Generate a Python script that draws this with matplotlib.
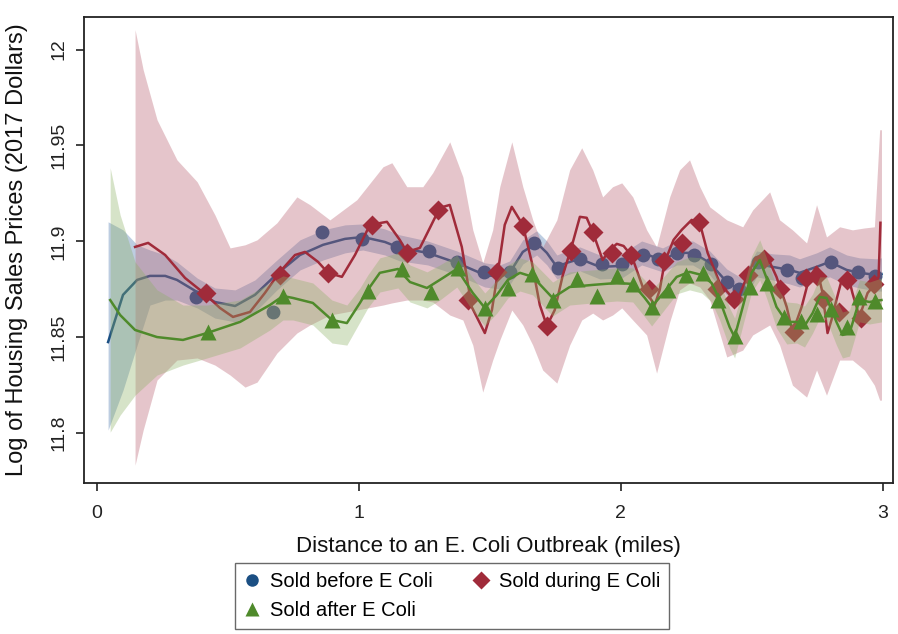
import matplotlib
matplotlib.use("Agg")
import matplotlib.pyplot as plt
from matplotlib.lines import Line2D

# ---------------- data ----------------
# binned scatter markers
before_x = [0.378, 0.672, 0.859, 1.011, 1.145, 1.267, 1.374, 1.477, 1.576, 1.668, 1.760, 1.844, 1.927, 2.004,
            2.084, 2.141, 2.214, 2.279, 2.344, 2.405, 2.450, 2.523, 2.634, 2.691, 2.805, 2.908, 2.973]
before_y = [11.871, 11.863, 11.905, 11.901, 11.897, 11.895, 11.889, 11.884, 11.884, 11.899, 11.886, 11.891, 11.888,
            11.888, 11.893, 11.891, 11.894, 11.893, 11.888, 11.879, 11.875, 11.889, 11.885, 11.881, 11.889, 11.884,
            11.882]

during_x = [0.416, 0.698, 0.882, 1.050, 1.183, 1.302, 1.416, 1.527, 1.626, 1.718, 1.809, 1.893, 1.966, 2.038,
            2.107, 2.164, 2.233, 2.298, 2.366, 2.431, 2.485, 2.546, 2.607, 2.660, 2.706, 2.748, 2.771, 2.832,
            2.866, 2.916, 2.966]
during_y = [11.873, 11.8825, 11.8836, 11.9086, 11.894, 11.9164, 11.8694, 11.884, 11.908, 11.856, 11.895, 11.905,
            11.894, 11.893, 11.875, 11.890, 11.899, 11.910, 11.875, 11.870, 11.8825, 11.891, 11.875, 11.853,
            11.881, 11.882, 11.870, 11.863, 11.880, 11.860, 11.878]

after_x = [0.424, 0.710, 0.897, 1.034, 1.164, 1.275, 1.378, 1.481, 1.569, 1.660, 1.740, 1.832, 1.908, 1.985,
           2.046, 2.118, 2.179, 2.248, 2.313, 2.370, 2.435, 2.492, 2.557, 2.622, 2.687, 2.748, 2.805, 2.866,
           2.912, 2.973]
after_y = [11.853, 11.8715, 11.859, 11.874, 11.8856, 11.8736, 11.886, 11.865, 11.8757, 11.883, 11.8694, 11.8804,
           11.8715, 11.882, 11.8778, 11.8658, 11.8747, 11.8825, 11.8836, 11.8694, 11.8506, 11.8762, 11.8783,
           11.8606, 11.8585, 11.8621, 11.8648, 11.8553, 11.871, 11.869]

# smoothed fits with confidence bands
before_fit_x = [0.042, 0.099, 0.153, 0.202, 0.260, 0.305, 0.382, 0.450, 0.527, 0.603, 0.687, 0.775, 0.863, 0.947,
                1.015, 1.099, 1.156, 1.263, 1.374, 1.481, 1.538, 1.576, 1.626, 1.679, 1.718, 1.756, 1.794, 1.844,
                1.920, 2.004, 2.080, 2.160, 2.214, 2.275, 2.340, 2.405, 2.454, 2.492, 2.519, 2.580, 2.645, 2.683,
                2.748, 2.798, 2.863, 2.912, 2.977, 2.996]
before_fit_y = [11.8475, 11.8721, 11.8799, 11.8820, 11.8820, 11.8799, 11.8736, 11.8684, 11.8663, 11.8721, 11.8830,
                11.8929, 11.8982, 11.9013, 11.9023, 11.8997, 11.8966, 11.8940, 11.8888, 11.8825, 11.8815, 11.8836,
                11.8945, 11.8992, 11.8940, 11.8867, 11.8888, 11.8909, 11.8867, 11.8872, 11.8940, 11.8903, 11.8940,
                11.8940, 11.8888, 11.8788, 11.8747, 11.8815, 11.8883, 11.8867, 11.8851, 11.8836, 11.8867, 11.8893,
                11.8851, 11.8836, 11.8825, 11.8830]
before_hi = [11.9102, 11.9060, 11.8982, 11.8955, 11.8929, 11.8893, 11.8809, 11.8757, 11.8747, 11.8799, 11.8903,
             11.9008, 11.9060, 11.9086, 11.9091, 11.9065, 11.9034, 11.9002, 11.8950, 11.8888, 11.8877, 11.8898,
             11.9008, 11.9055, 11.9002, 11.8929, 11.8950, 11.8971, 11.8929, 11.8935, 11.9002, 11.8966, 11.9002,
             11.9002, 11.8950, 11.8856, 11.8815, 11.8882, 11.8950, 11.8935, 11.8929, 11.8909, 11.8940, 11.8971,
             11.8929, 11.8914, 11.8909, 11.8914]
before_lo = [11.8016, 11.8224, 11.8459, 11.8668, 11.8694, 11.8694, 11.8653, 11.8600, 11.8580, 11.8632, 11.8747,
             11.8851, 11.8903, 11.8940, 11.8955, 11.8929, 11.8898, 11.8877, 11.8825, 11.8762, 11.8752, 11.8773,
             11.8882, 11.8929, 11.8877, 11.8804, 11.8825, 11.8846, 11.8804, 11.8809, 11.8877, 11.8841, 11.8877,
             11.8877, 11.8825, 11.8721, 11.8679, 11.8747, 11.8815, 11.8799, 11.8778, 11.8762, 11.8794, 11.8815,
             11.8773, 11.8757, 11.8741, 11.8741]

during_fit_x = [0.145, 0.195, 0.260, 0.336, 0.412, 0.469, 0.519, 0.584, 0.641, 0.698, 0.756, 0.794, 0.844, 0.882,
                0.935, 0.985, 1.042, 1.107, 1.156, 1.183, 1.233, 1.271, 1.309, 1.347, 1.393, 1.431, 1.481, 1.508,
                1.531, 1.557, 1.584, 1.626, 1.660, 1.691, 1.718, 1.748, 1.779, 1.809, 1.844, 1.870, 1.893, 1.931,
                1.958, 1.985, 2.011, 2.042, 2.084, 2.130, 2.149, 2.168, 2.202, 2.233, 2.271, 2.302, 2.332, 2.378,
                2.427, 2.454, 2.485, 2.515, 2.542, 2.569, 2.595, 2.634, 2.656, 2.676, 2.691, 2.721, 2.748, 2.771,
                2.790, 2.805, 2.817, 2.844, 2.866, 2.885, 2.912, 2.927, 2.943, 2.969, 2.985, 2.992]
during_fit_y = [11.8971, 11.8992, 11.8929, 11.8809, 11.8726, 11.8653, 11.8606, 11.8632, 11.8731, 11.8841, 11.8929,
                11.8945, 11.8893, 11.8836, 11.8815, 11.8929, 11.9086, 11.9102, 11.9008, 11.8945, 11.8966, 11.9070,
                11.9175, 11.9190, 11.8971, 11.8658, 11.8522, 11.8642, 11.8841, 11.9086, 11.9180, 11.9086, 11.8893,
                11.8668, 11.8559, 11.8642, 11.8825, 11.8955, 11.9128, 11.9123, 11.9050, 11.8903, 11.8955, 11.8987,
                11.8976, 11.8924, 11.8762, 11.8668, 11.8747, 11.8893, 11.9008, 11.9060, 11.9112, 11.9096, 11.8940,
                11.8783, 11.8705, 11.8721, 11.8825, 11.8914, 11.8929, 11.8893, 11.8815, 11.8658, 11.8527, 11.8600,
                11.8658, 11.8815, 11.8867, 11.8731, 11.8522, 11.8590, 11.8658, 11.8799, 11.8836, 11.8731, 11.8606,
                11.8668, 11.8731, 11.8773, 11.8815, 11.9097]
during_band_x = [0.145, 0.176, 0.229, 0.305, 0.382, 0.450, 0.508, 0.565, 0.611, 0.687, 0.763, 0.813, 0.889, 0.992,
                 1.092, 1.126, 1.183, 1.244, 1.282, 1.347, 1.397, 1.435, 1.473, 1.511, 1.538, 1.584, 1.626, 1.664,
                 1.702, 1.756, 1.805, 1.851, 1.893, 1.931, 1.969, 2.004, 2.046, 2.099, 2.137, 2.187, 2.225, 2.263,
                 2.302, 2.340, 2.405, 2.466, 2.504, 2.569, 2.607, 2.656, 2.710, 2.748, 2.786, 2.836, 2.885, 2.931,
                 2.969, 2.989, 2.996]
during_hi = [12.0104, 11.9895, 11.9634, 11.9425, 11.9311, 11.9138, 11.8966, 11.8982, 11.9008, 11.9097, 11.9232,
             11.9191, 11.9112, 11.9217, 11.9389, 11.9410, 11.9285, 11.9285, 11.9358, 11.9519, 11.9337, 11.9060,
             11.8888, 11.9060, 11.9285, 11.9519, 11.9285, 11.9112, 11.8971, 11.9112, 11.9373, 11.9488, 11.9373,
             11.9232, 11.9285, 11.9305, 11.9232, 11.9060, 11.8971, 11.9232, 11.9373, 11.9425, 11.9285, 11.9180,
             11.9112, 11.9076, 11.9164, 11.9258, 11.9112, 11.9060, 11.8992, 11.9191, 11.9023, 11.9076, 11.9060,
             11.9070, 11.9076, 11.9582, 11.9582]
during_lo = [11.7833, 11.8016, 11.8277, 11.8381, 11.8392, 11.8355, 11.8303, 11.8240, 11.8266, 11.8418, 11.8522,
             11.8564, 11.8616, 11.8642, 11.8668, 11.8679, 11.8694, 11.8694, 11.8684, 11.8616, 11.8590, 11.8459,
             11.8214, 11.8381, 11.8485, 11.8642, 11.8564, 11.8459, 11.8329, 11.8261, 11.8459, 11.8590, 11.8626,
             11.8590, 11.8616, 11.8653, 11.8590, 11.8512, 11.8313, 11.8580, 11.8747, 11.8783, 11.8762, 11.8694,
             11.8397, 11.8433, 11.8512, 11.8564, 11.8459, 11.8250, 11.8188, 11.8329, 11.8198, 11.8381, 11.8381,
             11.8329, 11.8250, 11.8172, 11.8172]

after_fit_x = [0.050, 0.088, 0.145, 0.229, 0.328, 0.420, 0.546, 0.660, 0.710, 0.748, 0.824, 0.897, 0.954, 1.004,
               1.034, 1.080, 1.149, 1.195, 1.260, 1.309, 1.374, 1.435, 1.481, 1.527, 1.569, 1.615, 1.664, 1.740,
               1.805, 1.893, 1.985, 2.046, 2.092, 2.118, 2.160, 2.214, 2.263, 2.309, 2.347, 2.378, 2.416, 2.435,
               2.466, 2.500, 2.531, 2.557, 2.595, 2.634, 2.672, 2.702, 2.733, 2.760, 2.786, 2.824, 2.847, 2.874,
               2.912, 2.950, 2.996]
after_fit_y = [11.8694, 11.8616, 11.8538, 11.8501, 11.8486, 11.8522, 11.8580, 11.8668, 11.8715, 11.8705, 11.8679,
               11.8590, 11.8574, 11.8679, 11.8747, 11.8836, 11.8856, 11.8788, 11.8757, 11.8799, 11.8856, 11.8731,
               11.8653, 11.8721, 11.8799, 11.8836, 11.8815, 11.8705, 11.8762, 11.8773, 11.8783, 11.8778, 11.8705,
               11.8658, 11.8726, 11.8815, 11.8841, 11.8825, 11.8783, 11.8694, 11.8553, 11.8501, 11.8658, 11.8836,
               11.8903, 11.8809, 11.8658, 11.8580, 11.8580, 11.8559, 11.8626, 11.8710, 11.8705, 11.8580, 11.8512,
               11.8522, 11.8694, 11.8684, 11.8694]
after_hi = [11.9384, 11.9138, 11.8893, 11.8747, 11.8668, 11.8668, 11.8694, 11.8783, 11.8820, 11.8809, 11.8783,
            11.8694, 11.8668, 11.8757, 11.8825, 11.8914, 11.8940, 11.8877, 11.8841, 11.8877, 11.8929, 11.8809,
            11.8731, 11.8799, 11.8877, 11.8914, 11.8893, 11.8788, 11.8841, 11.8851, 11.8862, 11.8862, 11.8799,
            11.8747, 11.8809, 11.8893, 11.8919, 11.8914, 11.8872, 11.8788, 11.8653, 11.8600, 11.8747, 11.8924,
            11.9008, 11.8914, 11.8762, 11.8684, 11.8679, 11.8663, 11.8726, 11.8815, 11.8815, 11.8694, 11.8632,
            11.8642, 11.8799, 11.8788, 11.8809]
after_lo = [11.8005, 11.8094, 11.8198, 11.8303, 11.8355, 11.8392, 11.8444, 11.8538, 11.8590, 11.8590, 11.8564,
            11.8470, 11.8459, 11.8580, 11.8653, 11.8736, 11.8757, 11.8684, 11.8653, 11.8694, 11.8762, 11.8637,
            11.8559, 11.8626, 11.8705, 11.8741, 11.8721, 11.8611, 11.8668, 11.8679, 11.8689, 11.8684, 11.8606,
            11.8559, 11.8632, 11.8726, 11.8747, 11.8731, 11.8684, 11.8590, 11.8444, 11.8392, 11.8559, 11.8736,
            11.8799, 11.8705, 11.8548, 11.8465, 11.8470, 11.8449, 11.8522, 11.8600, 11.8590, 11.8459, 11.8392,
            11.8402, 11.8580, 11.8569, 11.8580]

x_ticks = [0, 1, 2, 3]
x_tick_labels = ["0", "1", "2", "3"]
y_ticks = [11.8, 11.85, 11.9, 11.95, 12.0]
y_tick_labels = ["11.8", "11.85", "11.9", "11.95", "12"]
series_labels = ["Sold before E Coli", "Sold during E Coli", "Sold after E Coli"]

# ---------------- styling ----------------
plt.rcParams['font.family'] = ['Liberation Sans', 'DejaVu Sans']
c_blue, c_red, c_green = '#1b4f83', '#a02b3a', '#4f8a2b'
b_blue, b_red, b_green = '#5a82b4', '#b96473', '#8caf64'

fig = plt.figure(figsize=(8.98, 6.34), dpi=100)
ax = fig.add_axes([84 / 898, 151 / 634, 809 / 898, 466 / 634])

# blue
ax.fill_between(before_fit_x, before_lo, before_hi, color=b_blue, alpha=0.40, linewidth=0, zorder=1)
ax.plot(before_fit_x, before_fit_y, color=c_blue, lw=1.8, zorder=2, solid_joinstyle='round')
ax.plot(before_x, before_y, 'o', color=c_blue, ms=10, mec='none', zorder=3)
# red
ax.fill_between(during_band_x, during_lo, during_hi, color=b_red, alpha=0.37, linewidth=0, zorder=4)
ax.plot(during_fit_x, during_fit_y, color=c_red, lw=1.8, zorder=5, solid_joinstyle='round')
ax.plot(during_x, during_y, 'D', color=c_red, ms=10, mec='none', zorder=6)
# green
ax.fill_between(after_fit_x, after_lo, after_hi, color=b_green, alpha=0.35, linewidth=0, zorder=7)
ax.plot(after_fit_x, after_fit_y, color=c_green, lw=1.8, zorder=8, solid_joinstyle='round')
ax.plot(after_x, after_y, '^', color=c_green, ms=11, mec='none', zorder=9)

ax.set_xlim(-0.05, 3.04)
ax.set_ylim(11.774, 12.017)
ax.set_xticks(x_ticks)
ax.set_xticklabels(x_tick_labels, fontsize=14)
ax.set_yticks(y_ticks)
ax.set_yticklabels(y_tick_labels, fontsize=14, rotation=90, va='center')
ax.tick_params(direction='out', length=6, width=1.2, colors='#222222')
ax.tick_params(axis='x', pad=10)
ax.tick_params(axis='y', pad=6)
for s in ax.spines.values():
    s.set_linewidth(1.3)
    s.set_color('#222222')
ax.set_xlabel("Distance to an E. Coli Outbreak (miles)", fontsize=16, labelpad=10, color='#111111')
ax.set_ylabel("Log of Housing Sales Prices (2017 Dollars)", fontsize=17, labelpad=16, color='#111111')

handles = [Line2D([], [], ls='none', marker='o', color=c_blue, ms=9, mec='none'),
           Line2D([], [], ls='none', marker='^', color=c_green, ms=10, mec='none'),
           Line2D([], [], ls='none', marker='D', color=c_red, ms=9, mec='none')]
labels = [series_labels[0], series_labels[2], series_labels[1]]
leg = fig.legend(handles, labels, loc='center', bbox_to_anchor=(452 / 898, 1 - 596 / 634), ncol=2,
                 fontsize=14.5, frameon=True, fancybox=False, edgecolor='#444444', handlelength=0.8,
                 handletextpad=0.5, columnspacing=2.0, borderpad=0.45, labelspacing=0.5)
leg.get_frame().set_linewidth(1.0)

fig.savefig("out.png", dpi=100, facecolor='white')
